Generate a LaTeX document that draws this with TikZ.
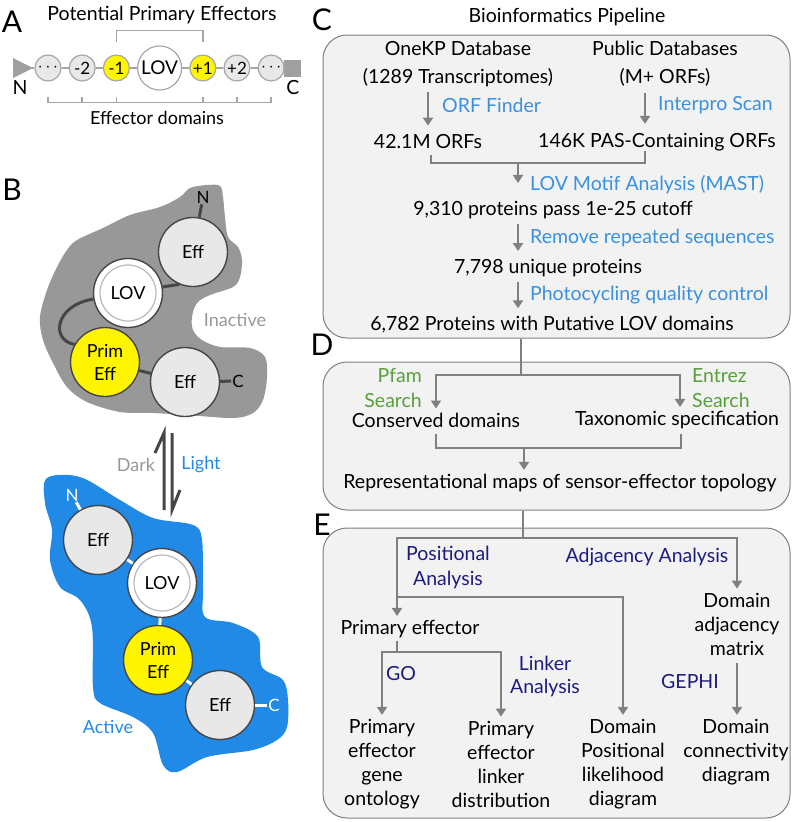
\documentclass[tikz,border=0pt]{standalone}
\usepackage{fontspec}
\setmainfont{Lato}
\usetikzlibrary{arrows,arrows.meta,positioning}

\definecolor{panelbg}{RGB}{242,242,242}
\definecolor{wire}{RGB}{128,128,128}
\definecolor{toolblue}{RGB}{58,145,222}
\definecolor{searchgreen}{RGB}{88,160,58}
\definecolor{navy}{RGB}{28,28,128}
\definecolor{litblue}{RGB}{33,137,230}
\definecolor{darkgrey}{RGB}{152,152,152}
\definecolor{domgrey}{RGB}{232,232,232}
\definecolor{effyellow}{RGB}{255,245,0}
\definecolor{ringgrey}{RGB}{70,70,70}

\tikzset{
  lbl/.style={font=\fontsize{19.5}{24}\selectfont, align=center, inner sep=0pt},
  tool/.style={lbl, text=toolblue, anchor=west},
  srch/.style={lbl, text=searchgreen},
  anl/.style={lbl, text=navy},
  flow/.style={draw=wire, line width=2.4pt, -{Triangle[width=10pt,length=8pt]}, shorten >=4pt},
  link/.style={draw=wire, line width=2.4pt},
  stage/.style={draw=wire, fill=panelbg, rounded corners=24pt, line width=1pt, inner sep=0pt},
  panel/.style={font=\fontsize{30}{30}\selectfont, inner sep=0pt},
  dom/.style={circle, draw=gray!70, fill=domgrey, line width=1.2pt, minimum size=26pt, inner sep=0pt, font=\fontsize{17}{17}\selectfont},
  chain/.style={draw=gray!70, line width=1.5pt},
  prot/.style={circle, draw=ringgrey, fill=domgrey, line width=1.4pt, minimum size=69pt, inner sep=0pt, font=\fontsize{18}{23}\selectfont, align=center},
  tether/.style={draw=ringgrey, line width=3pt},
}

\begin{document}
\begin{tikzpicture}[x=1pt, y=-1pt]
\useasboundingbox (0,0) rectangle (796,822);

% A: domain chain
\node[panel] (labA) at (12,22) {A};
\node[lbl] (ptitle) at (162,15) {Potential Primary Effectors};
\fill[gray!75] (13,58) -- (33,68) -- (13,78) -- cycle;
\coordinate (ntip) at (30,68);
\node[fill=gray!75, minimum size=17pt, inner sep=0pt] (cend) at (292,68) {};
\node[dom] (dm3) at (48,68) {$\cdots$};
\node[dom, right=7pt of dm3] (dm2) {-2};
\node[dom, fill=effyellow, right=7pt of dm2] (dm1) {-1};
\node[dom, fill=white, minimum size=44pt, font=\fontsize{19}{19}\selectfont, right=7pt of dm1] (lovchain) {LOV};
\node[dom, fill=effyellow, right=7pt of lovchain] (dp1) {+1};
\node[dom, right=7pt of dp1] (dp2) {+2};
\node[dom, right=7pt of dp2] (dp3) {$\cdots$};
\draw[chain] (ntip) -- (dm3) -- (dm2) -- (dm1) -- (lovchain) -- (dp1) -- (dp2) -- (dp3) -- (cend);
\draw[chain] ([yshift=12pt]dm1.north) |- ([yshift=24pt]dp1.north) -- ([yshift=12pt]dp1.north);
\draw[chain] ([yshift=-15pt]dm3.south) -- ([yshift=-21pt]dm3.south) -- ([yshift=-21pt]dp3.south) -- ([yshift=-15pt]dp3.south);
\foreach \d in {dm2,dm1,dp1,dp2}
  \draw[chain] ([yshift=-15pt]\d.south) -- ([yshift=-21pt]\d.south);
\node[lbl] (nterm) at (20,88) {N};
\node[lbl] (cterm) at (293,88) {C};
\node[lbl, font=\fontsize{18}{18}\selectfont] (effdoms) at (157,118) {Effector domains};

% B: inactive state
\node[panel] (labB) at (12,190) {B};
\fill[darkgrey] plot[smooth cycle, tension=0.55] coordinates {
  (190,188) (207,185) (220,186) (223,197) (225,217) (228,237) (238,247)
  (242,260) (240,277) (233,287) (210,295) (197,303) (192,317) (193,330)
  (202,340) (220,347) (250,348) (265,357) (267,377) (263,400) (253,413)
  (233,418) (187,415) (153,413) (120,412) (87,402) (67,387) (53,363)
  (43,340) (40,317) (47,290) (57,267) (67,250) (77,240) (103,228)
  (130,215) (160,207) (180,197)};
\node[prot] (effNi) at (193,252) {Eff};
\node[prot, fill=white] (lovI) at (128,293) {LOV};
\draw[gray!55, line width=1.2pt] (lovI.center) circle (28pt);
\node[prot, fill=effyellow] (primI) at (105,362) {Prim\\Eff};
\node[prot] (effCi) at (185,382) {Eff};
\node[lbl, font=\fontsize{17}{17}\selectfont, inner sep=1pt] (nI) at (203,197) {N};
\node[lbl, font=\fontsize{17}{17}\selectfont, inner sep=1pt] (cI) at (238,381) {C};
\draw[tether] (effNi) -- (nI);
\draw[tether] (lovI.10) -- (effNi.247);
\draw[tether] (lovI.190) .. controls (55,305) and (50,340) .. (primI.150);
\draw[tether] (primI) -- (effCi);
\draw[tether] (effCi) -- (cI);
\node[lbl, font=\fontsize{18}{18}\selectfont, text=darkgrey] (inact) at (235,320) {Inactive};

% dark / light switch
\draw[ringgrey, line width=3pt, line join=miter] (164,510) -- (164,433) -- (155,453);
\draw[ringgrey, line width=3pt, line join=miter] (172,433) -- (172,510) -- (180,490);
\node[lbl, font=\fontsize{18}{18}\selectfont, text=darkgrey] (dark) at (136,465) {Dark};
\node[lbl, font=\fontsize{18}{18}\selectfont, text=litblue] (light) at (201,465) {Light};

% B: active state
\fill[litblue] plot[smooth cycle, tension=0.55] coordinates {
  (47,478) (80,477) (120,500) (153,518) (193,525) (202,540) (203,590)
  (205,617) (233,623) (258,637) (262,667) (283,680) (288,700) (287,727)
  (277,740) (253,750) (207,757) (177,772) (163,765) (153,733) (133,717)
  (100,703) (93,687) (92,627) (80,600) (60,587) (50,560) (52,530) (45,503)};
\node[prot] (effNa) at (98,540) {Eff};
\node[prot, fill=white] (lovAc) at (162,583) {LOV};
\draw[gray!55, line width=1.2pt] (lovAc.center) circle (28pt);
\node[prot, fill=effyellow] (primAc) at (158,660) {Prim\\Eff};
\node[prot] (effCa) at (220,705) {Eff};
\node[lbl, font=\fontsize{17}{17}\selectfont, inner sep=1pt, text=white] (nA) at (72,495) {N};
\node[lbl, font=\fontsize{17}{17}\selectfont, inner sep=1pt, text=white] (cA) at (274,705) {C};
\draw[tether, draw=white] (effNa) -- (nA);
\draw[tether, draw=white] (effNa) -- (lovAc);
\draw[tether, draw=white] (lovAc) -- (primAc);
\draw[tether, draw=white] (primAc) -- (effCa);
\draw[tether, draw=white] (effCa) -- (cA);
\node[lbl, font=\fontsize{18}{18}\selectfont, text=litblue] (act) at (108,727) {Active};

% C: pipeline
\node[panel] (labC) at (322,20) {C};
\node[lbl] (pipe) at (567,17) {Bioinformatics Pipeline};
\node[stage, minimum width=467pt, minimum height=303pt] (boxC) at (556.5,186.5) {};
\node[lbl, font=\fontsize{19.5}{28}\selectfont] (onekp) at (458,64) {OneKP Database\\(1289 Transcriptomes)};
\node[lbl, font=\fontsize{19.5}{28}\selectfont] (public) at (665,64) {Public Databases\\(M+ ORFs)};
\node[lbl] (orfs) at (428,142) {42.1M ORFs};
\node[lbl] (pas) at (657,142) {146K PAS-Containing ORFs};
\coordinate (ipr) at (645,93);
\draw[flow, shorten <=5pt, shorten >=9pt] (orfs |- onekp.south) -- (orfs.north);
\draw[flow, shorten >=9pt] (ipr) -- (ipr |- pas.north);
\node[tool] (orffind) at (442,105) {ORF Finder};
\node[tool] (interpro) at (658,105) {Interpro Scan};
\coordinate (mL) at (431,163);
\coordinate (mR) at (645,163);
\coordinate (mM) at (518,163);
\draw[link, shorten <=6pt] (mL |- orfs.south) -- (mL) -- (mR) -- (mR |- pas.south);
\node[lbl] (pass) at (553,210) {9,310 proteins pass 1e-25 cutoff};
\draw[flow, shorten >=18pt] (mM) -- (mM |- pass.north);
\node[tool] (mast) at (530,185) {LOV Motif Analysis (MAST)};
\node[lbl] (uniq) at (548,268) {7,798 unique proteins};
\draw[flow, shorten <=5pt, shorten >=8pt] (mM |- pass.south) -- (mM |- uniq.north);
\node[tool] (repeat) at (530,238) {Remove repeated sequences};
\node[lbl] (putative) at (552,325) {6,782 Proteins with Putative LOV domains};
\draw[flow, shorten <=5pt, shorten >=8pt] (mM |- uniq.south) -- (mM |- putative.north);
\node[tool] (photo) at (530,295) {Photocycling quality control};

% D: annotation
\node[panel] (labD) at (322,345) {D};
\node[stage, minimum width=467pt, minimum height=148pt] (boxD) at (556.5,436) {};
\coordinate (dsplit) at (521,375);
\draw[link] (boxC.south -| dsplit) -- (dsplit);
\node[lbl] (cons) at (436,420) {Conserved domains};
\node[lbl] (taxo) at (677,420) {Taxonomic specification};
\draw[flow] (dsplit) -| (cons.north);
\draw[flow] (dsplit) -| ([xshift=3pt]taxo.north);
\node[srch, font=\fontsize{19.5}{25}\selectfont, align=right, anchor=east] (pfam) at (422,388) {Pfam\\Search};
\node[srch, font=\fontsize{19.5}{25}\selectfont, align=left, anchor=west] (entrez) at (692,388) {Entrez\\Search};
\coordinate (dmerge) at (524,448);
\draw[link, shorten <=7pt, shorten >=5pt] (cons.south) -- (cons.south |- dmerge) -- ([xshift=4pt]taxo.south |- dmerge) -- ([xshift=4pt]taxo.south);
\node[lbl] (reps) at (560,483) {Representational maps of sensor-effector topology};
\draw[flow] (dmerge) -- (dmerge |- reps.north);

% E: analysis
\node[panel] (labE) at (322,525) {E};
\node[stage, minimum width=467pt, minimum height=290pt] (boxE) at (556.5,673) {};
\coordinate (esplit) at (523,538);
\draw[link] (boxD.south -| esplit) -- (esplit);
\node[lbl] (adjm) at (737,624) {Domain\\adjacency\\matrix};
\node[lbl] (prim) at (410,629) {Primary effector};
\coordinate (ejoin) at (397,597);
\coordinate (pjoin) at (397,652);
\draw[flow] (esplit) -| (adjm.north);
\draw[flow] (esplit) -| (ejoin |- prim.north);
\node[lbl] (gene) at (382,764) {Primary\\effector\\gene\\ontology};
\node[lbl] (linker) at (501,764) {Primary\\effector\\linker\\distribution};
\node[lbl] (domlik) at (623,764) {Domain\\Positional\\likelihood\\diagram};
\node[lbl] (conn) at (736,752) {Domain\\connectivity\\diagram};
\draw[flow] (ejoin) -| (domlik.north);
\draw[link, shorten <=3pt] (prim.south -| pjoin) -- (pjoin);
\draw[flow] (pjoin) -| (gene.north);
\draw[flow] (pjoin) -| (linker.north);
\draw[flow, shorten <=8pt] (adjm.south) -- (adjm.south |- conn.north);
\node[anl, font=\fontsize{19.5}{25}\selectfont] (posan) at (448,567) {Positional\\Analysis};
\node[anl] (adjan) at (647,557) {Adjacency Analysis};
\node[anl] (goan) at (401,674) {GO};
\node[anl, font=\fontsize{19.5}{23}\selectfont] (linkan) at (545,676) {Linker\\Analysis};
\node[anl] (gephi) at (690,682) {GEPHI};
\end{tikzpicture}
\end{document}
